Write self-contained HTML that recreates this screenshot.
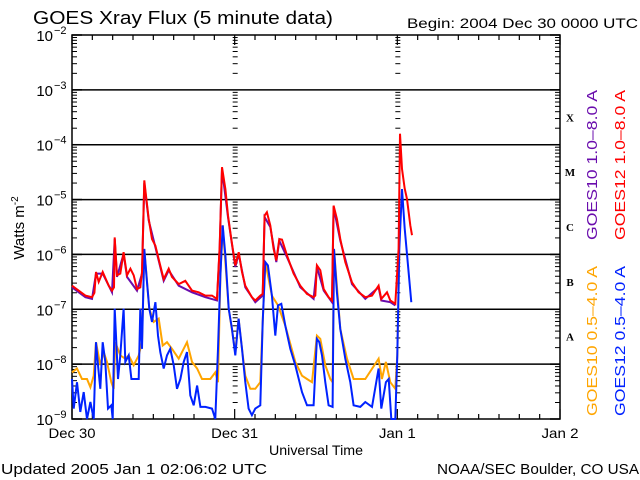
<!DOCTYPE html>
<html><head><meta charset="utf-8"><style>
html,body{margin:0;padding:0;background:#fff;}
svg{display:block;font-family:"Liberation Sans",sans-serif;}
</style></head><body>
<svg id="chart" width="640" height="480" viewBox="0 0 640 480" xmlns="http://www.w3.org/2000/svg">
<rect width="640" height="480" fill="#fff"/>
<text x="33" y="24" font-size="18" textLength="300" lengthAdjust="spacingAndGlyphs">GOES Xray Flux (5 minute data)</text>
<text x="407" y="28" font-size="14" textLength="231" lengthAdjust="spacingAndGlyphs">Begin:  2004 Dec 30 0000 UTC</text>
<text x="316" y="455" font-size="14" text-anchor="middle" textLength="94" lengthAdjust="spacingAndGlyphs">Universal Time</text>
<text x="1" y="474" font-size="15" textLength="266" lengthAdjust="spacingAndGlyphs">Updated 2005 Jan  1 02:06:02 UTC</text>
<text x="437" y="474" font-size="15" textLength="202" lengthAdjust="spacingAndGlyphs">NOAA/SEC Boulder, CO USA</text>
<text transform="translate(24,228) rotate(-90)" font-size="15" text-anchor="middle">Watts m<tspan dy="-6" font-size="10">-2</tspan></text>
<text transform="translate(597,240) rotate(-90)" font-size="15" fill="#6a0dad" textLength="150" lengthAdjust="spacingAndGlyphs">GOES10 1.0–8.0 A</text>
<text transform="translate(625,240) rotate(-90)" font-size="15" fill="#ff0000" textLength="150" lengthAdjust="spacingAndGlyphs">GOES12 1.0–8.0 A</text>
<text transform="translate(597,416) rotate(-90)" font-size="15" fill="#ffa500" textLength="150" lengthAdjust="spacingAndGlyphs">GOES10 0.5–4.0 A</text>
<text transform="translate(625,416) rotate(-90)" font-size="15" fill="#0022ff" textLength="150" lengthAdjust="spacingAndGlyphs">GOES12 0.5–4.0 A</text>
<g id="axes"></g>
<g id="series"></g>
</svg>
<script>
const dayLabels = ["Dec 30","Dec 31","Jan 1","Jan 2"];
const decadeExps = [-2,-3,-4,-5,-6,-7,-8,-9];
const flareClasses = ["X","M","C","B","A"];
const flareClassExps = [-4,-5,-6,-7,-8];

const g12LongT = [0,.98,1.97,2.95,3.3,3.54,3.94,4.53,5.41,5.9,6.2,6.3,6.64,7.13,7.62,8.12,8.61,9.1,9.59,10.08,10.33,10.67,10.92,11.31,11.8,12.3,12.89,13.53,14.26,14.76,15.74,16.72,17.71,18.69,19.68,20.66,21.4,21.79,22.13,22.63,23.02,23.51,24.1,24.59,25.08,25.57,26.55,27.04,27.78,28.13,28.42,28.76,29.26,29.75,30.14,30.58,30.98,31.72,32.7,33.68,34.67,35.65,35.9,36.14,36.63,37.13,37.86,38.36,38.6,39.09,39.59,40.32,41.31,42.29,43.28,44.26,45.24,45.64,46.47,46.96,47.7,48.19,48.4,48.69,49.08,49.42,49.92,50.16];
const g12LongV = [-6.57,-6.66,-6.75,-6.78,-6.7,-6.32,-6.5,-6.32,-6.57,-6.66,-6.6,-5.69,-6.38,-6.35,-5.96,-6.38,-6.26,-6.38,-6.63,-6.6,-6.32,-4.65,-4.93,-5.35,-5.72,-5.84,-6.14,-6.45,-6.26,-6.41,-6.54,-6.48,-6.66,-6.69,-6.75,-6.75,-6.81,-5.84,-4.41,-4.81,-5.29,-5.72,-6.2,-5.96,-6.32,-6.57,-6.78,-6.84,-6.75,-6.72,-5.29,-5.23,-5.47,-5.9,-6.11,-5.72,-5.73,-6.02,-6.35,-6.57,-6.72,-6.78,-6.75,-6.2,-6.29,-6.63,-6.78,-6.84,-5.11,-5.35,-5.72,-6.14,-6.51,-6.69,-6.78,-6.75,-6.57,-6.81,-6.69,-6.84,-6.9,-5.9,-3.8,-4.44,-4.8,-4.99,-5.47,-5.65];

const g10LongT = [0,1.97,2.95,3.54,4.53,5.9,6.3,6.64,7.62,8.12,9.59,10.33,10.67,11.31,12.3,13.53,14.26,15.74,17.71,19.68,21.4,21.79,22.13,23.02,24.1,24.59,25.57,27.04,28.13,28.42,29.26,30.14,30.58,31.72,33.68,35.65,36.14,37.13,38.36,38.6,39.59,41.31,43.28,45.24,45.64,46.96,47.7];
const g10LongV = [-6.6,-6.78,-6.81,-6.35,-6.35,-6.69,-5.72,-6.41,-5.99,-6.41,-6.66,-6.35,-4.7,-5.38,-5.87,-6.48,-6.29,-6.57,-6.69,-6.78,-6.84,-5.87,-4.45,-5.32,-6.23,-5.99,-6.6,-6.87,-6.75,-5.32,-5.5,-6.14,-5.75,-6.05,-6.6,-6.81,-6.23,-6.66,-6.87,-5.14,-5.75,-6.54,-6.81,-6.6,-6.84,-6.87,-6.93];

const g12ShortT = [0,.25,.74,1.23,1.72,2.21,2.71,3.2,3.54,3.84,4.18,4.53,4.92,5.31,5.8,6.0,6.3,6.49,6.79,7.13,7.62,7.87,8.36,8.76,9.35,9.84,10.08,10.33,10.67,11.07,11.41,11.8,12.3,12.69,13.03,13.53,14.02,14.51,15.0,15.49,15.99,16.48,16.97,17.46,17.95,18.45,18.94,19.68,20.66,21.15,21.54,21.89,22.23,22.63,23.12,23.61,24.1,24.58,25.08,25.57,26.06,26.55,27.04,27.78,28.13,28.52,28.91,29.5,29.99,30.39,30.88,31.47,32.21,32.95,33.93,34.67,35.65,36.14,36.49,36.88,37.37,37.86,38.45,38.65,39.09,39.59,40.32,41.06,41.55,42.54,43.28,44.26,45.24,45.64,46.32,46.72,47.11,47.7,48.0,48.29,48.69,49.08,49.57,50.06];
const g12ShortV = [-8.27,-8.81,-8.33,-8.87,-8.51,-9.1,-8.69,-9.1,-7.6,-8.02,-8.45,-7.6,-7.96,-8.81,-8.75,-9.1,-6.99,-7.48,-8.27,-7.84,-6.99,-7.96,-7.84,-8.27,-8.27,-8.27,-6.99,-7.72,-5.9,-6.51,-6.99,-7.23,-6.87,-7.48,-7.78,-8.08,-7.84,-7.72,-8.02,-8.45,-8.27,-7.96,-7.78,-8.57,-8.75,-8.39,-8.78,-8.78,-8.81,-9.1,-7.72,-6.38,-5.47,-6.02,-6.99,-7.36,-7.84,-7.17,-7.72,-8.33,-8.81,-8.93,-8.81,-8.75,-7.23,-6.14,-6.2,-6.75,-7.48,-6.93,-6.9,-7.3,-7.72,-8.02,-8.51,-8.75,-8.75,-7.54,-7.6,-7.84,-8.33,-8.75,-8.78,-5.9,-6.69,-7.36,-7.9,-8.33,-8.75,-8.78,-8.69,-8.78,-8.08,-8.81,-8.33,-8.27,-9.1,-9.1,-7.84,-5.9,-4.81,-5.53,-6.2,-6.87];

const g10ShortT = [0,.74,1.48,2.21,2.71,3.2,3.54,4.18,4.67,5.16,5.8,6.15,6.39,7.13,7.87,8.36,9.1,9.84,10.33,10.67,11.41,12.05,12.79,13.38,14.02,14.76,15.74,16.97,17.71,18.45,19.18,20.41,21.15,21.54,21.89,22.23,23.12,24.1,24.58,25.08,25.57,26.31,27.04,27.78,28.13,28.52,29.5,30.39,31.47,32.95,33.93,34.67,35.41,36.14,36.63,37.37,38.11,38.45,38.65,39.59,40.57,41.55,43.28,45.24,45.73,46.32,46.96,47.7,48.0,48.29];
const g10ShortV = [-8.15,-8.08,-8.27,-8.27,-8.42,-8.21,-7.6,-8.02,-7.78,-7.96,-8.33,-8.45,-7.6,-7.84,-7.9,-7.84,-8.02,-7.84,-7.6,-5.9,-6.99,-7.23,-7.17,-7.66,-7.6,-7.72,-7.9,-7.6,-7.96,-8.08,-8.27,-8.27,-8.15,-8.33,-6.38,-5.47,-6.99,-7.78,-7.17,-7.72,-8.21,-8.45,-8.45,-8.33,-7.23,-6.14,-6.75,-6.93,-7.3,-7.96,-8.21,-8.27,-8.33,-7.48,-7.54,-8.02,-8.27,-8.33,-5.9,-7.36,-7.9,-8.27,-8.27,-7.9,-8.27,-7.96,-8.33,-8.45,-7.84,-6.0];

const NS = "http://www.w3.org/2000/svg";
const X0 = 72, X1 = 560, Y0 = 35, Y1 = 419;
const xScale = h => X0 + h * (X1 - X0) / 72;
const yScale = e => Y0 + (-2 - e) * (Y1 - Y0) / 7;
const axes = document.getElementById('axes');
const series = document.getElementById('series');
function mk(tag, attrs, parent) {
  const el = document.createElementNS(NS, tag);
  for (const k in attrs) el.setAttribute(k, attrs[k]);
  parent.appendChild(el);
  return el;
}
decadeExps.forEach(e => {
  if (e > -3 || e < -8) return;
  const y = yScale(e);
  const l = mk('line', {x1: X0, x2: X1, y1: y, y2: y, stroke: '#000', 'stroke-width': 1.5}, axes);
  
  
});
const fr = mk('rect', {x: X0, y: Y0, width: X1 - X0, height: Y1 - Y0, fill: 'none', stroke: '#000', 'stroke-width': 1.5}, axes);


decadeExps.forEach((e, i) => {
  const y = yScale(e);
  const t = mk('text', {x: 53, y: y + 6, 'font-size': 15, 'text-anchor': 'end'}, axes);
  
  
  t.textContent = '10';
  const s = mk('text', {x: 54, y: y - 1, 'font-size': 11}, axes);
  
  
  s.textContent = '−' + (-e);
  if (i < decadeExps.length - 1) {
    for (let m = 2; m <= 9; m++) {
      const yy = yScale(e - 1 + Math.log10(m));
      [[X0, X0 + 5], [X1 - 5, X1], [xScale(24) - 2, xScale(24) + 3], [xScale(48) - 2, xScale(48) + 3]].forEach(p => {
        const tk = mk('line', {x1: p[0], x2: p[1], y1: yy, y2: yy, stroke: '#000', 'stroke-width': 1}, axes);
        
        
      });
    }
  }
  [[X0, X0 + 10], [X1 - 10, X1]].forEach(p => {
    const tk = mk('line', {x1: p[0], x2: p[1], y1: y, y2: y, stroke: '#000', 'stroke-width': 1.5}, axes);
    
    
  });
});
dayLabels.forEach((d, i) => {
  const x = xScale(i * 24);
  const t = mk('text', {x: x, y: 438, 'font-size': 14, 'text-anchor': 'middle', textLength: d.length > 5 ? 47 : 37, lengthAdjust: 'spacingAndGlyphs'}, axes);
  
  
  t.textContent = d;
});
for (let h = 0; h <= 72; h += 3) {
  const x = xScale(h);
  const len = h % 24 === 0 ? 10 : 5;
  const a = mk('line', {x1: x, x2: x, y1: Y1, y2: Y1 - len, stroke: '#000', 'stroke-width': 1.2}, axes);
  
  
  const b = mk('line', {x1: x, x2: x, y1: Y0, y2: Y0 + len, stroke: '#000', 'stroke-width': 1.2}, axes);
  
  
}
flareClasses.forEach((c, i) => {
  const t = mk('text', {x: 570, y: yScale(flareClassExps[i] + 0.5) + 4, 'font-size': 11, 'font-weight': 'bold', 'font-family': 'Liberation Serif, serif', 'text-anchor': 'middle'}, axes);
  
  
  t.textContent = c;
});
function drawSeries(T, V, color, name) {
  const pts = T.map((h, i) => xScale(h).toFixed(1) + ',' + Math.min(Y1, yScale(V[i])).toFixed(1)).join(' ');
  const p = mk('polyline', {points: pts, fill: 'none', stroke: color, 'stroke-width': 2, 'stroke-linejoin': 'miter'}, series);
  
  
}
drawSeries(g10ShortT, g10ShortV, '#ffa500', 'goes10-short-line');
drawSeries(g12ShortT, g12ShortV, '#0022ff', 'goes12-short-line');
drawSeries(g10LongT, g10LongV, '#6a0dad', 'goes10-long-line');
drawSeries(g12LongT, g12LongV, '#ff0000', 'goes12-long-line');
</script>
</body></html>
